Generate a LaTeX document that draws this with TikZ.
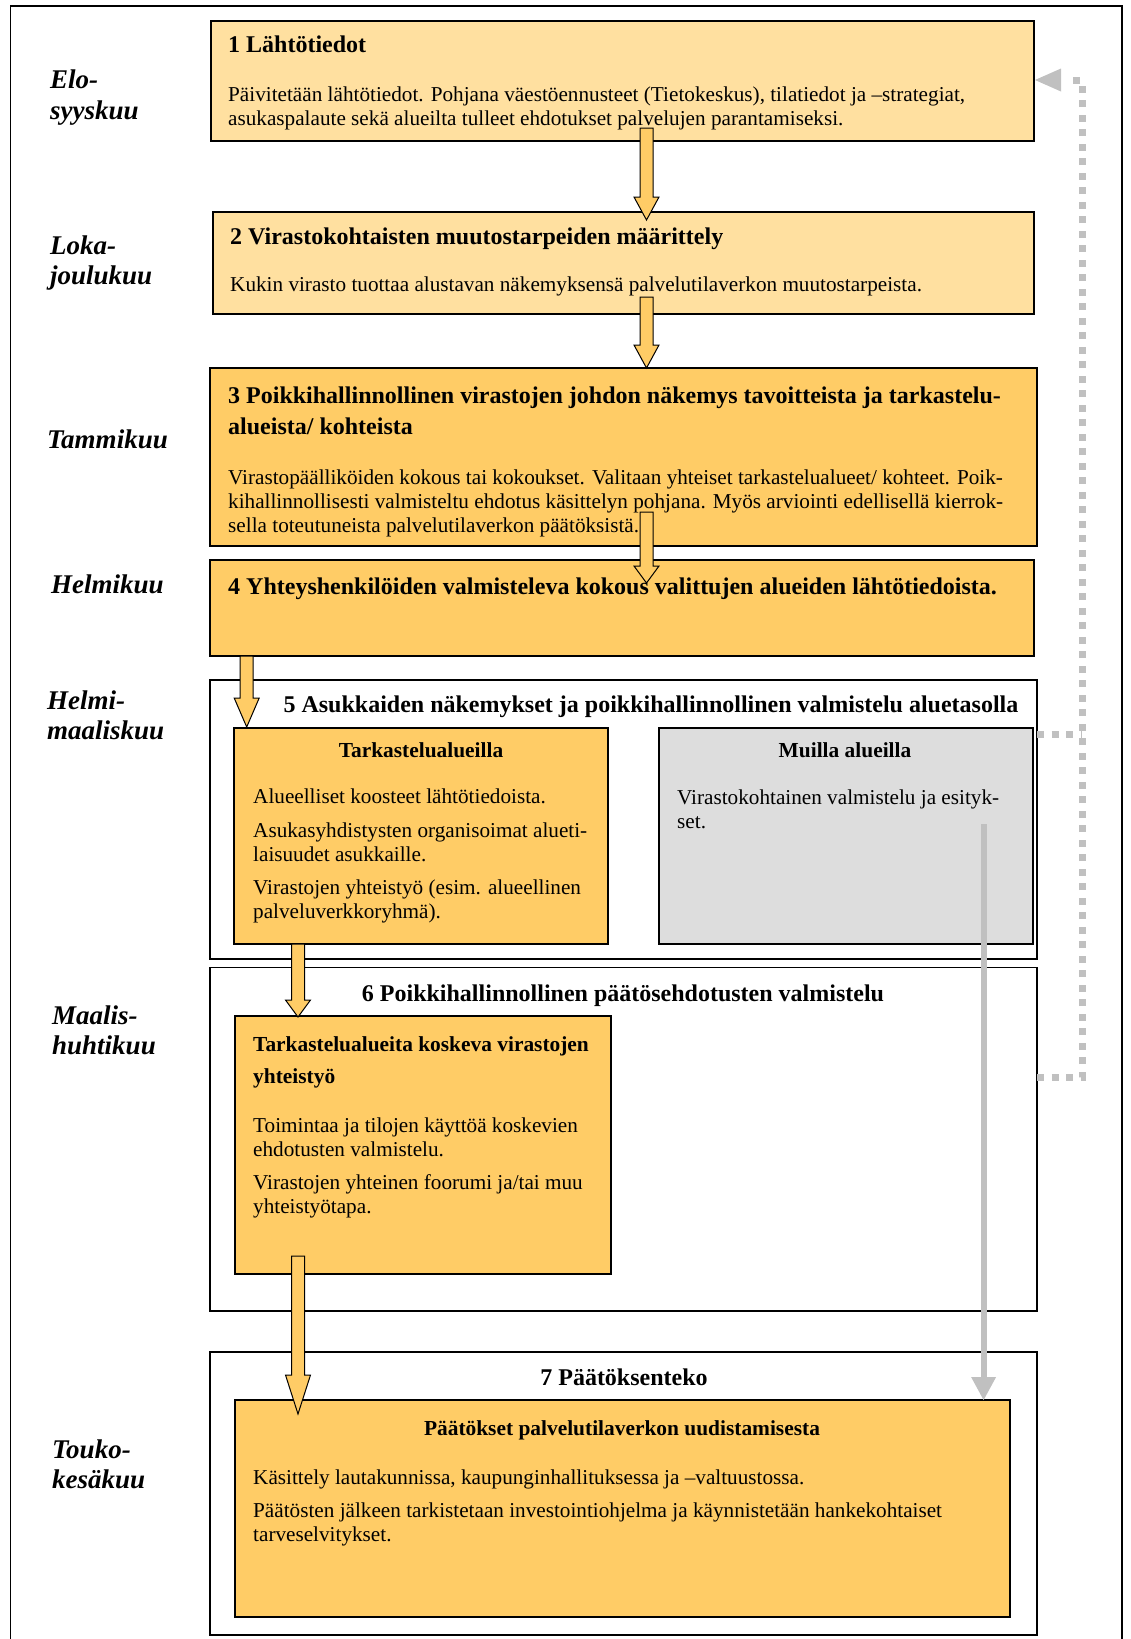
\documentclass[tikz,border=0pt]{standalone}
\usepackage{fontspec}
\setmainfont{Liberation Serif}
\usetikzlibrary{calc}
\definecolor{lightor}{RGB}{255,224,160}
\definecolor{darkor}{RGB}{255,204,102}
\definecolor{boxgray}{RGB}{221,221,221}
\definecolor{linegray}{RGB}{192,192,192}
\newcommand{\fl}{\rule{0pt}{21pt}}
\newcommand{\flt}{\rule{0pt}{24pt}}
\newcommand{\blockarrow}[3]{%
  \filldraw[fill=darkor, draw=black, line width=1pt, line join=miter]
    ($(#1)+(-6.5,0)$) -- ($(#2)+(-6.5,-#3)$) -- ($(#2)+(-12.5,-#3)$) -- (#2)
    -- ($(#2)+(12.5,-#3)$) -- ($(#2)+(6.5,-#3)$) -- ($(#1)+(6.5,0)$) -- cycle;}
\begin{document}
\begin{tikzpicture}[x=1pt,y=-1pt,
  box/.style={draw=black, line width=2pt, anchor=north west, inner sep=0pt, outer sep=0pt},
  lightbox/.style={box, fill=lightor},
  darkbox/.style={box, fill=darkor},
  graybox/.style={box, fill=boxgray},
  framebox/.style={box, fill=white, line width=1.8pt},
  body/.style={font=\fontsize{21.2}{24}\selectfont, inner sep=0pt, anchor=north west, align=left},
  ttl/.style={font=\fontsize{24}{31.5}\selectfont\bfseries, inner sep=0pt, anchor=base west},
  ttlc/.style={ttl, anchor=base},
  sub/.style={font=\fontsize{21.4}{32.7}\selectfont\bfseries, inner sep=0pt, anchor=base},
  month/.style={font=\fontsize{27}{30.5}\selectfont\bfseries\itshape, inner sep=0pt, anchor=north west, align=left},
  fb/.style={linegray, line width=7pt, dash pattern=on 7pt off 7.5pt}
]
\useasboundingbox (0,0) rectangle (1131,1639);
\fill[white] (0,0) rectangle (1131,1639);
% outer frame
\draw[line width=1.5pt] (10.5,1650) -- (10.5,6) -- (1122,6) -- (1122,1650);

% boxes
\node[lightbox, minimum width=823.5pt, minimum height=119.5pt] (b1) at (210.5,21) {};
\node[lightbox, minimum width=821.5pt, minimum height=102pt] (b2) at (212.5,212) {};
\node[darkbox, minimum width=827pt, minimum height=177.5pt] (b3) at (210,368) {};
\node[darkbox, minimum width=824pt, minimum height=96pt] (b4) at (210,560) {};
\node[framebox, minimum width=827pt, minimum height=279pt] (f5) at (210,680) {};
\node[darkbox, minimum width=374pt, minimum height=216.5pt] (b5a) at (234,727.5) {};
\node[graybox, minimum width=374.5pt, minimum height=216.5pt] (b5b) at (658.5,727.5) {};
\node[framebox, minimum width=827pt, minimum height=343.5pt] (f6) at (210,967.5) {};
\node[darkbox, minimum width=375.5pt, minimum height=258.5pt] (b6) at (235,1015.5) {};
\node[framebox, minimum width=827pt, minimum height=283pt] (f7) at (210,1352) {};
\node[darkbox, minimum width=775pt, minimum height=216.5pt] (b7) at (235,1400) {};

% month labels
\node[month] (m1) at (50,88.3-25) {\rule{0pt}{25pt}Elo-\\syyskuu};
\node[month] (m2) at (50,254-25) {\rule{0pt}{25pt}Loka-\\joulukuu};
\node[month] (m3) at (47,448-25) {\rule{0pt}{25pt}Tammikuu};
\node[month] (m4) at (51,593-25) {\rule{0pt}{25pt}Helmikuu};
\node[month] (m5) at (47,709-25) {\rule{0pt}{25pt}Helmi-\\maaliskuu};
\node[month] (m6) at (52,1024-25) {\rule{0pt}{25pt}Maalis-\\huhtikuu};
\node[month] (m7) at (52,1458-25) {\rule{0pt}{25pt}Touko-\\kesäkuu};

% box 1
\node[ttl] (t1) at (228,52.3) {1 Lähtötiedot};
\node[body] (x1) at (228,101-21) {\fl Päivitetään lähtötiedot. Pohjana väestöennusteet (Tietokeskus), tilatiedot ja –strategiat,\\asukaspalaute sekä alueilta tulleet ehdotukset palvelujen parantamiseksi.};
% box 2
\node[ttl] (t2) at (230,244) {2 Virastokohtaisten muutostarpeiden määrittely};
\node[body] (x2) at (230,291-21) {\fl Kukin virasto tuottaa alustavan näkemyksensä palvelutilaverkon muutostarpeista.};
% box 3
\node[ttl, anchor=north west, align=left] (t3) at (228,403-24) {\flt 3 Poikkihallinnollinen virastojen johdon näkemys tavoitteista ja tarkastelu-\\alueista/ kohteista};
\node[body] (x3) at (228,484-21) {\fl Virastopäälliköiden kokous tai kokoukset. Valitaan yhteiset tarkastelualueet/ kohteet. Poik-\\kihallinnollisesti valmisteltu ehdotus käsittelyn pohjana. Myös arviointi edellisellä kierrok-\\sella toteutuneista palvelutilaverkon päätöksistä.};
% box 4
\node[ttl] (t4) at (228,594) {4 Yhteyshenkilöiden valmisteleva kokous valittujen alueiden lähtötiedoista.};
% box 5
\node[ttlc] (t5) at (651,712) {5 Asukkaiden näkemykset ja poikkihallinnollinen valmistelu aluetasolla};
\node[sub] (s5a) at (421,757) {Tarkastelualueilla};
\node[body] (x5a) at (253,803.6-21) {\fl Alueelliset koosteet lähtötiedoista.\\[9.5pt]Asukasyhdistysten organisoimat alueti-\\laisuudet asukkaille.\\[9.5pt]Virastojen yhteistyö (esim. alueellinen\\palveluverkkoryhmä).};
\node[sub] (s5b) at (845,757) {Muilla alueilla};
\node[body] (x5b) at (677,804.6-21) {\fl Virastokohtainen valmistelu ja esityk-\\set.};
% box 6
\node[ttlc] (t6) at (623,1001) {6 Poikkihallinnollinen päätösehdotusten valmistelu};
\node[sub, anchor=north west, align=left] (s6) at (253,1051-21) {\rule{0pt}{21pt}Tarkastelualueita koskeva virastojen\\yhteistyö};
\node[body] (x6) at (253,1132-21) {\fl Toimintaa ja tilojen käyttöä koskevien\\ehdotusten valmistelu.\\[9pt]Virastojen yhteinen foorumi ja/tai muu\\yhteistyötapa.};
% box 7
\node[ttlc] (t7) at (624,1385.7) {7 Päätöksenteko};
\node[sub] (s7) at (622,1435) {Päätökset palvelutilaverkon uudistamisesta};
\node[body] (x7) at (253,1484-21) {\fl Käsittely lautakunnissa, kaupunginhallituksessa ja –valtuustossa.\\[9.5pt]Päätösten jälkeen tarkistetaan investointiohjelma ja käynnistetään hankekohtaiset\\tarveselvitykset.};

% block arrows
\coordinate (a1s) at (646.5,128);  \coordinate (a1t) at (646.5,220);
\coordinate (a2s) at (646.5,297);  \coordinate (a2t) at (646.5,368);
\coordinate (a3s) at (646.5,512);  \coordinate (a3t) at (646.5,583);
\coordinate (a4s) at (246.7,656);  \coordinate (a4t) at (246.7,727);
\coordinate (a5s) at (298,944);    \coordinate (a5t) at (298,1017);
\coordinate (a6s) at (298,1256);   \coordinate (a6t) at (298,1414);
\blockarrow{a1s}{a1t}{23}
\blockarrow{a2s}{a2t}{23}
\blockarrow{a3s}{a3t}{17}
\blockarrow{a4s}{a4t}{29}
\blockarrow{a5s}{a5t}{17}
\blockarrow{a6s}{a6t}{39}

% gray arrow from Muilla alueilla to box 7
\coordinate (g1) at (983.6,824);
\coordinate (g2) at (b7.north -| g1);
\draw[linegray, line width=6pt] (g1) -- ($(g2)+(0,-22)$);
\fill[linegray] (g2) -- ($(g2)+(-12.5,-23)$) -- ($(g2)+(12.5,-23)$) -- cycle;

% dotted feedback line
\coordinate (fb6) at (f6.east |- 0,1077);
\coordinate (fb5) at (f5.east |- 0,734);
\coordinate (fbtip) at (b1.east |- 0,80);
\draw[fb] (fb6) -- (1082,1077) -- (1082,80) -- ($(fbtip)+(36,0)$);
\draw[fb] (fb5) -- (1082,734);
\fill[linegray] ($(fbtip)+(1,0)$) -- ($(fbtip)+(27,-11.5)$) -- ($(fbtip)+(27,11.5)$) -- cycle;
\end{tikzpicture}
\end{document}
